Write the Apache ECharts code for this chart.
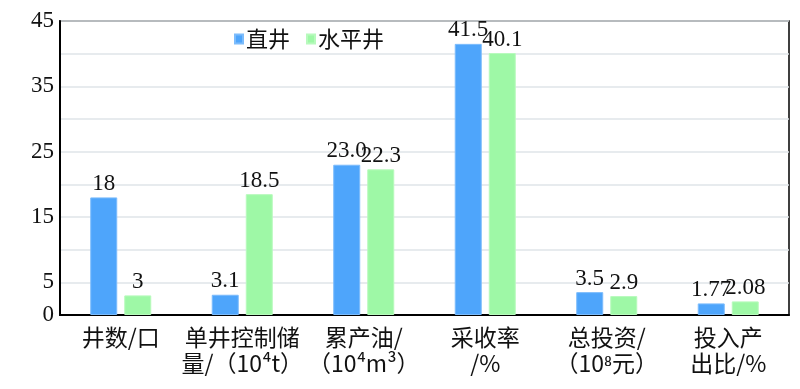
<!DOCTYPE html>
<html><head><meta charset="utf-8">
<script src="https://cdn.jsdelivr.net/npm/echarts@6/dist/echarts.min.js"></script>
<style>html,body{margin:0;padding:0;background:#fff}#c{width:800px;height:389px}</style>
</head><body><div id="c"></div>
<script>
const categories = ['井数/口', '单井控制储\n量/（10⁴t）', '累产油/\n（10⁴m³）', '采收率\n/%', '总投资/\n（10⁸元）', '投入产\n出比/%'];
const seriesNames = ['直井', '水平井'];
const verticalValues = [18, 3.1, 23.0, 41.5, 3.5, 1.77];
const horizontalValues = [3, 18.5, 22.3, 40.1, 2.9, 2.08];
const verticalLabels = ['18', '3.1', '23.0', '41.5', '3.5', '1.77'];
const horizontalLabels = ['3', '18.5', '22.3', '40.1', '2.9', '2.08'];
const yTickLabels = ['0', '5', '15', '25', '35', '45'];

const numFont = '"Liberation Serif", "Noto Sans CJK SC", serif';
const cjkFont = '"Noto Sans CJK SC", "Liberation Serif", sans-serif';

const chart = echarts.init(document.getElementById('c'));
function mkSeries(name, vals, labels, color, border) {
  return {
    name: name, type: 'bar', data: vals, barWidth: 27, barGap: '26%',
    itemStyle: { color: color, borderColor: border, borderWidth: 1 },
    label: { show: true, position: 'top', distance: 2, color: '#111',
      fontFamily: numFont, fontSize: 23,
      formatter: p => labels[p.dataIndex] }
  };
}
chart.setOption({
  animation: false,
  grid: { left: 60, right: 11, top: 21, bottom: 74, show: true, borderColor: '#000', borderWidth: 1.5, backgroundColor: 'transparent' },
  legend: {
    data: seriesNames, left: 229, top: 23, itemWidth: 8, itemHeight: 9, itemGap: 16,
    icon: 'rect',
    textStyle: { fontFamily: cjkFont, fontSize: 22, color: '#111', padding: [0, 0, 0, -2] }
  },
  xAxis: {
    type: 'category', data: categories,
    axisLine: { lineStyle: { color: '#000', width: 2 } },
    axisTick: { show: false },
    axisLabel: { fontFamily: cjkFont, fontSize: 23, color: '#111', lineHeight: 26, margin: 9, interval: 0 }
  },
  yAxis: {
    type: 'value', min: 0, max: 45, interval: 5,
    axisLine: { show: true, lineStyle: { color: '#000', width: 2 } },
    axisTick: { show: false },
    splitLine: { lineStyle: { color: '#dfe5e8', width: 1.5 } },
    axisLabel: { fontFamily: numFont, fontSize: 23, color: '#111', margin: 6,
      formatter: v => yTickLabels.includes(String(v)) ? String(v) : '' }
  },
  series: [
    mkSeries(seriesNames[0], verticalValues, verticalLabels, '#4ea5fb', '#7cbcfc'),
    mkSeries(seriesNames[1], horizontalValues, horizontalLabels, '#9ef8a6', '#b8fabd')
  ]
});
</script></body></html>
